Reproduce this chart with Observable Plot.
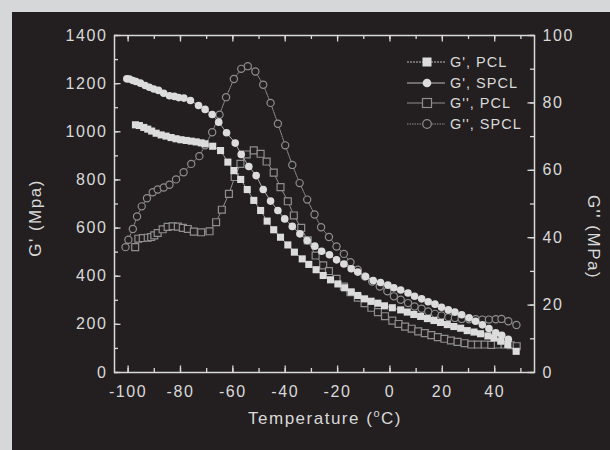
<!DOCTYPE html>
<html>
<head>
<meta charset="utf-8">
<script src="https://cdn.jsdelivr.net/npm/d3@7"></script>
<script src="https://cdn.jsdelivr.net/npm/@observablehq/plot@0.6"></script>
<style>
html, body { margin: 0; padding: 0; background: #d5d7d9; }
#wrap { position: relative; width: 610px; height: 450px; overflow: hidden; }
#panel { position: absolute; left: 12px; top: 12px; width: 598px; height: 438px; background: #231f20; }
#chart { position: absolute; left: 0; top: 0; }
#chart svg text { letter-spacing: 1.6px; }
.lab { position: absolute; color: #d9d9d9; font-family: "Liberation Sans", Arial, sans-serif; font-size: 17px; letter-spacing: 1.5px; white-space: nowrap; }
.lab sup { font-size: 11px; vertical-align: 0; position: relative; top: -7px; }
#legend { position: absolute; left: 406px; top: 52px; font-family: "Liberation Sans", Arial, sans-serif; font-size: 14.5px; letter-spacing: 1px; color: #d9d9d9; }
#legend .row { display: flex; align-items: center; height: 20.5px; }
#legend svg { margin-right: 4px; }
</style>
</head>
<body>
<div id="wrap">
  <div id="panel"></div>
  <div id="chart"></div>
  <div class="lab" id="ylabL" style="left:36px; top:218px; transform: translate(-50%,-50%) rotate(-90deg);">G' (Mpa)</div>
  <div class="lab" id="xlab" style="left:325px; top:419px; transform: translate(-50%,-50%);">Temperature (<sup>o</sup>C)</div>
  <div class="lab" id="ylabR" style="left:593px; top:237px; transform: translate(-50%,-50%) rotate(90deg);">G'' (MPa)</div>
  <div id="legend"></div>
</div>
<script>
// ---- data (temperature in °C) ----
const seriesNames = ["G', PCL", "G', SPCL", "G'', PCL", "G'', SPCL"];

const tGpPCL = [-97.2,-95.7,-94.0,-92.5,-91.0,-89.3,-87.4,-85.5,-83.6,-81.7,-79.8,-77.8,-75.9,-74.0,-72.1,-70.6,-67.7,-64.7,-61.9,-59.6,-57.0,-54.5,-52.0,-49.4,-46.9,-44.4,-41.8,-39.0,-36.5,-33.5,-31.0,-28.2,-25.5,-22.7,-19.9,-17.3,-14.8,-12.3,-9.7,-7.2,-4.6,-2.1,0.9,4.1,6.6,9.1,11.7,14.3,16.8,19.3,21.9,24.4,27.0,29.5,32.1,34.6,37.4,39.7,42.3,45.0,48.2];
const vGpPCL = [1029,1026,1018,1011,1003,994,987,982,976,971,967,964,961,958,954,950,940,922,874,839,802,760,715,673,629,593,562,530,500,472,449,427,403,385,368,352,334,320,306,296,288,277,269,260,251,241,233,224,216,208,199,191,184,174,168,161,152,144,130,116,88];

const tGpSPCL = [-100.5,-99.5,-98.2,-97.0,-95.3,-93.5,-91.9,-90.2,-88.4,-86.4,-84.2,-82.3,-80.7,-78.7,-76.2,-73.1,-70.6,-67.9,-65.4,-62.4,-59.1,-56.8,-53.9,-51.1,-48.4,-45.6,-42.8,-40.2,-37.3,-34.4,-31.6,-28.7,-26.1,-23.1,-20.4,-17.6,-14.8,-12.3,-9.3,-6.4,-3.6,-0.8,1.5,4.1,6.9,9.4,12.1,14.6,17.2,19.7,22.3,24.8,27.4,30.2,32.7,35.3,37.8,40.4,42.7,45.2];
const vGpSPCL = [1220,1219,1213,1209,1202,1192,1185,1178,1172,1160,1150,1147,1142,1140,1130,1109,1093,1072,1040,996,953,906,856,818,760,712,673,638,607,576,548,525,504,489,468,451,431,417,399,382,374,363,352,343,330,317,306,294,284,271,260,251,240,227,213,198,183,165,155,138];

const tGppPCL = [-97.3,-96.1,-94.4,-92.5,-91.2,-90.0,-88.7,-86.8,-84.9,-83.0,-81.0,-79.1,-77.2,-74.9,-72.1,-68.9,-66.4,-64.2,-61.5,-59.3,-57.1,-54.7,-52.0,-49.4,-47.1,-44.4,-41.8,-39.0,-36.7,-33.9,-31.4,-28.4,-25.5,-23.3,-20.4,-17.6,-15.1,-12.3,-9.7,-7.1,-4.6,-1.9,0.9,3.3,5.8,8.3,10.8,13.3,15.8,18.3,20.8,23.3,25.8,28.5,31.1,33.6,36.2,38.7,41.2,43.8,46.1,48.4];
const vGppPCL = [37.2,39.7,39.9,40.0,40.2,40.7,41.4,42.5,43.2,43.4,43.3,42.9,42.6,41.8,41.6,41.9,44.6,48.3,53.0,58.0,61.9,64.7,65.9,64.9,62.6,59.3,55.0,50.8,46.6,42.9,39.2,34.7,31.8,30.1,27.8,25.5,23.8,22.2,20.6,19.2,17.9,16.7,15.4,14.4,13.6,13.0,12.2,11.7,11.1,10.5,10.0,9.5,9.1,8.7,8.3,8.3,8.3,8.2,8.3,8.3,8.1,7.8];

const tGppSPCL = [-101.0,-99.9,-98.2,-96.6,-94.8,-92.8,-90.6,-88.7,-86.4,-84.2,-81.7,-78.8,-75.9,-72.8,-70.6,-67.9,-65.1,-62.6,-59.6,-56.8,-54.3,-51.4,-48.4,-45.6,-42.8,-40.0,-37.3,-34.5,-31.6,-28.8,-26.3,-23.3,-20.4,-17.6,-15.1,-12.3,-9.6,-6.8,-3.9,-1.0,1.5,4.1,6.9,9.4,12.1,14.6,17.2,19.7,22.3,24.8,27.4,30.2,32.7,35.3,37.8,40.4,42.6,45.2,48.3];
const vGppSPCL = [37.2,39.4,42.6,46.3,49.3,51.7,53.5,54.3,54.9,55.7,57.3,59.4,61.9,64.2,67.4,71.3,76.5,81.7,87.1,90.1,90.9,89.3,85.4,80.0,73.8,67.4,61.6,56.2,51.3,46.9,43.1,40.2,37.4,35.2,32.7,30.5,28.5,27.0,25.5,24.1,22.6,21.6,20.6,19.6,18.9,18.1,17.4,16.9,16.4,16.2,15.9,15.8,15.8,15.7,15.7,15.8,15.9,15.2,14.1];

const xMajor = [-100,-80,-60,-40,-20,0,20,40];
const xMinor = [-100,-90,-80,-70,-60,-50,-40,-30,-20,-10,0,10,20,30,40,50];
const yLeftMajor = [0,200,400,600,800,1000,1200,1400];
const yLeftMinor = [0,100,200,300,400,500,600,700,800,900,1000,1100,1200,1300,1400];
const yRightMajor = [0,20,40,60,80,100];
const yRightMinor = [0,10,20,30,40,50,60,70,80,90,100];

// ---- build ----
const K = 1400 / 100; // right-axis value -> left-axis scale
const rows = (T, V, s) => T.map((t, i) => ({t, v: V[i] * s}));
const gpPCL = rows(tGpPCL, vGpPCL, 1);
const gpSPCL = rows(tGpSPCL, vGpSPCL, 1);
const gppPCL = rows(tGppPCL, vGppPCL, K);
const gppSPCL = rows(tGppSPCL, vGppSPCL, K);

const W = 610, H = 450, mL = 114, mR = 76, mT = 35, mB = 78;
const xDom = [-105.2, 55.2], yDom = [0, 1400];
const xPx = (xDom[1] - xDom[0]) / (W - mL - mR); // x units per pixel
const yPx = (yDom[1] - yDom[0]) / (H - mT - mB); // y units per pixel
const tMaj = 6.5, tMin = 4;

const fg = "#d9d9d9";
const bg = "#231f20";
const openCol = "#8e8e8e";
const filledCol = "#dcdcdc";
const tw = 1.3;

const chart = Plot.plot({
  width: W, height: H,
  marginLeft: mL, marginRight: mR, marginTop: mT, marginBottom: mB,
  style: {background: "transparent", color: fg, fontFamily: "'Liberation Sans', Arial, sans-serif", fontSize: "16px", overflow: "visible"},
  x: {domain: xDom},
  y: {domain: yDom},
  marks: [
    // inward ticks
    Plot.ruleX(xMinor, {x: d => d, y1: yDom[0], y2: yDom[0] + tMin * yPx, stroke: fg, strokeWidth: tw}),
    Plot.ruleX(xMajor, {x: d => d, y1: yDom[0], y2: yDom[0] + tMaj * yPx, stroke: fg, strokeWidth: tw}),
    Plot.ruleX(xMinor, {x: d => d, y1: yDom[1] - tMin * yPx, y2: yDom[1], stroke: fg, strokeWidth: tw}),
    Plot.ruleX(xMajor, {x: d => d, y1: yDom[1] - tMaj * yPx, y2: yDom[1], stroke: fg, strokeWidth: tw}),
    Plot.ruleY(yLeftMinor, {y: d => d, x1: xDom[0], x2: xDom[0] + tMin * xPx, stroke: fg, strokeWidth: tw}),
    Plot.ruleY(yLeftMajor, {y: d => d, x1: xDom[0], x2: xDom[0] + tMaj * xPx, stroke: fg, strokeWidth: tw}),
    Plot.ruleY(yRightMinor, {y: d => d * K, x1: xDom[1] - tMin * xPx, x2: xDom[1], stroke: fg, strokeWidth: tw}),
    Plot.ruleY(yRightMajor, {y: d => d * K, x1: xDom[1] - tMaj * xPx, x2: xDom[1], stroke: fg, strokeWidth: tw}),
    // tick labels
    Plot.axisX(xMajor, {anchor: "bottom", tickSize: 0, tickPadding: 13, label: null, fill: fg, tickFormat: d => String(d)}),
    Plot.axisY(yLeftMajor, {anchor: "left", tickSize: 0, tickPadding: 7, label: null, fill: fg, tickFormat: d => String(d)}),
    Plot.axisY(yRightMajor.map(d => d * K), {anchor: "right", tickSize: 0, tickPadding: 8, label: null, fill: fg, tickFormat: d => String(Math.round(d / K))}),
    Plot.frame({stroke: fg, strokeWidth: 1.5}),
    // open series (G'')
    Plot.line(gppPCL, {x: "t", y: "v", stroke: openCol, strokeWidth: 1}),
    Plot.dot(gppPCL, {x: "t", y: "v", symbol: "square", r: 3.9, stroke: openCol, strokeWidth: 1.2, fill: bg}),
    Plot.line(gppSPCL, {x: "t", y: "v", stroke: openCol, strokeWidth: 1, strokeDasharray: "1.5,1"}),
    Plot.dot(gppSPCL, {x: "t", y: "v", symbol: "circle", r: 3.6, stroke: openCol, strokeWidth: 1.2, fill: bg}),
    // filled series (G')
    Plot.line(gpPCL, {x: "t", y: "v", stroke: "#aaaaaa", strokeWidth: 1, strokeDasharray: "2,1"}),
    Plot.dot(gpPCL, {x: "t", y: "v", symbol: "square", r: 4.0, fill: filledCol, stroke: "none"}),
    Plot.line(gpSPCL, {x: "t", y: "v", stroke: "#aaaaaa", strokeWidth: 1}),
    Plot.dot(gpSPCL, {x: "t", y: "v", symbol: "circle", r: 3.8, fill: filledCol, stroke: "none"})
  ]
});
document.getElementById("chart").appendChild(chart);

// ---- legend ----
const legendItems = [
  {name: seriesNames[0], shape: "square", filled: true, dash: "2,1"},
  {name: seriesNames[1], shape: "circle", filled: true, dash: null},
  {name: seriesNames[2], shape: "square", filled: false, dash: null},
  {name: seriesNames[3], shape: "circle", filled: false, dash: "1.5,1"}
];
const leg = d3.select("#legend");
legendItems.forEach(it => {
  const row = leg.append("div").attr("class", "row");
  const s = row.append("svg").attr("width", 40).attr("height", 14);
  s.append("line").attr("x1", 1).attr("x2", 39).attr("y1", 7).attr("y2", 7)
    .attr("stroke", it.filled ? "#bbbbbb" : openCol).attr("stroke-width", 1)
    .attr("stroke-dasharray", it.dash);
  const col = it.filled ? filledCol : openCol;
  if (it.shape === "square") {
    s.append("rect").attr("x", 21 - 4.5).attr("y", 7 - 4.5).attr("width", 9).attr("height", 9)
      .attr("fill", it.filled ? col : bg).attr("stroke", it.filled ? "none" : col).attr("stroke-width", 1.2);
  } else {
    s.append("circle").attr("cx", 21).attr("cy", 7).attr("r", 4.3)
      .attr("fill", it.filled ? col : bg).attr("stroke", it.filled ? "none" : col).attr("stroke-width", 1.2);
  }
  row.append("span").text(it.name);
});
</script>
</body>
</html>
